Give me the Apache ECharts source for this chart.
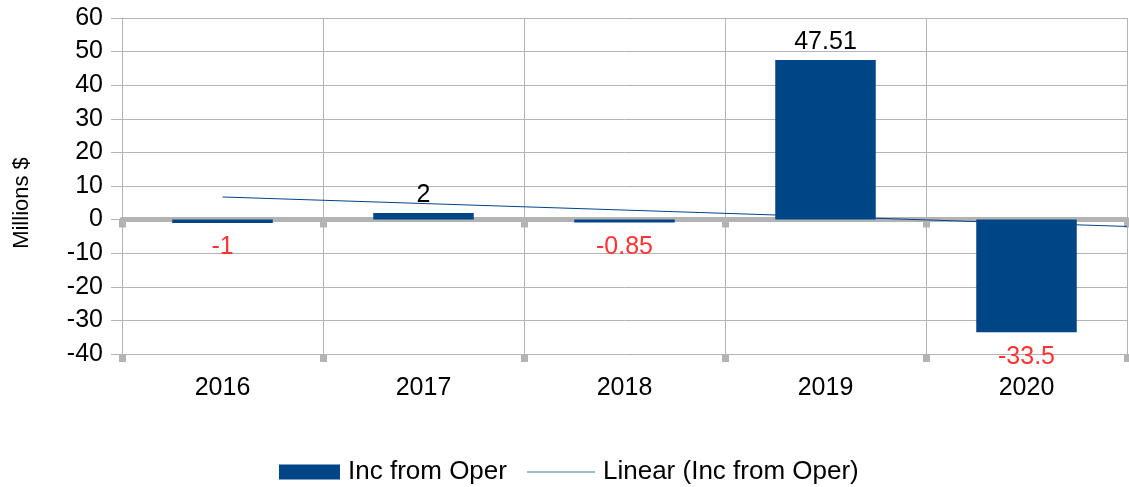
<!DOCTYPE html>
<html>
<head>
<meta charset="utf-8">
<script src="https://cdn.jsdelivr.net/npm/echarts@6/dist/echarts.min.js"></script>
<style>
  html, body { margin: 0; padding: 0; background: #fff; }
  #main { width: 1129px; height: 487px; }
</style>
</head>
<body>
<div id="main"></div>
<script>
// values
const years = ['2016', '2017', '2018', '2019', '2020'];
const incFromOper = [-1, 2, -0.85, 47.51, -33.5];
// trend line end points (x in category units, 1 = 2016)
const trendX = [1, 5.5];
const trendY = [6.73, -2.04];

const chartDom = document.getElementById('main');
const myChart = echarts.init(chartDom);

const font = 'Liberation Sans, Arial, sans-serif';
const gray = '#b3b3b3';
const blue = '#004586';
const fs = 25;

const barData = incFromOper.map((v) => ({
  value: v,
  label: v < 0
    ? { position: 'bottom', color: '#ff3333', distance: 12 }
    : { position: 'top', color: '#000', distance: 5 }
}));

const legendText = { fontSize: 26, color: '#000', fontFamily: font, padding: [0, 0, 0, 3] };

const option = {
  animation: false,
  backgroundColor: '#fff',
  textStyle: { fontFamily: font },
  grid: { left: 122, right: 2, top: 18, bottom: 133 },
  legend: [
    {
      left: 279,
      top: 459,
      padding: 0,
      itemWidth: 61,
      itemHeight: 15,
      textStyle: legendText,
      data: [{ name: 'Inc from Oper', icon: 'rect' }]
    },
    {
      left: 527,
      top: 459,
      padding: 0,
      itemWidth: 68,
      itemHeight: 1,
      textStyle: legendText,
      itemStyle: { color: '#3d74b0' },
      data: [{ name: 'Linear (Inc from Oper)', icon: 'rect' }]
    }
  ],
  graphic: [
    {
      type: 'text',
      x: 22,
      y: 203,
      rotation: Math.PI / 2,
      style: {
        text: 'Millions $',
        font: '22px ' + font,
        fill: '#000',
        align: 'center',
        verticalAlign: 'middle'
      }
    }
  ],
  xAxis: [
    {
      type: 'category',
      data: years,
      axisLine: { onZero: true, lineStyle: { color: gray, width: 5 } },
      axisTick: { show: true, length: 8, lineStyle: { color: gray, width: 7 } },
      axisLabel: { show: false },
      splitLine: { show: true, lineStyle: { color: gray, width: 1 } }
    },
    {
      type: 'category',
      data: years,
      position: 'bottom',
      axisLine: { show: false, onZero: false },
      axisTick: { show: true, length: 8, lineStyle: { color: gray, width: 7 } },
      axisLabel: { fontSize: fs, color: '#000', margin: 22, fontFamily: font },
      splitLine: { show: false }
    },
    {
      type: 'value',
      min: 0.5,
      max: 5.5,
      show: false
    }
  ],
  yAxis: {
    type: 'value',
    min: -40,
    max: 60,
    interval: 10,
    axisLine: { show: true, lineStyle: { color: gray, width: 1 } },
    axisTick: { show: true, length: 11, lineStyle: { color: gray } },
    axisLabel: { fontSize: fs, color: '#000', margin: 19, fontFamily: font },
    splitLine: { show: true, lineStyle: { color: gray, width: 1 } }
  },
  series: [
    {
      name: 'Inc from Oper',
      type: 'bar',
      xAxisIndex: 0,
      barWidth: '50%',
      data: barData,
      itemStyle: { color: blue },
      label: { show: true, fontSize: fs, fontFamily: font }
    },
    {
      name: 'Linear (Inc from Oper)',
      type: 'line',
      xAxisIndex: 2,
      data: trendX.map((x, i) => [x, trendY[i]]),
      symbol: 'none',
      lineStyle: { color: blue, width: 1 },
      itemStyle: { color: blue },
      z: 5
    }
  ]
};

myChart.setOption(option);
</script>
</body>
</html>
